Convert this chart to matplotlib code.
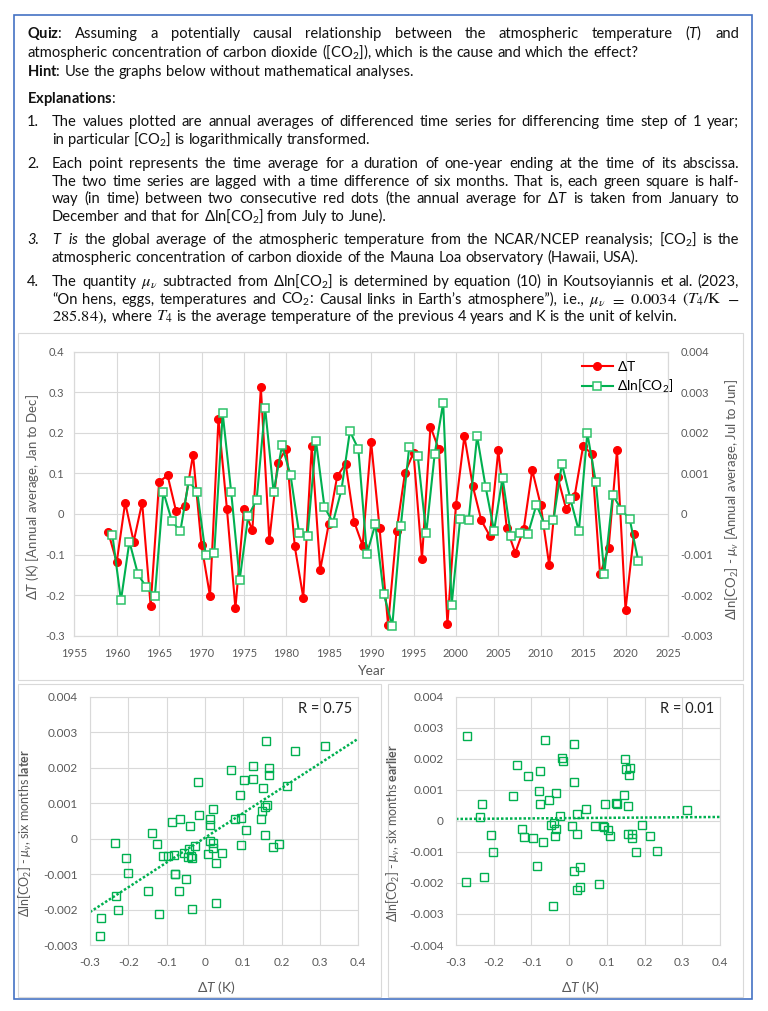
import numpy as np
import matplotlib
matplotlib.use('Agg')
import matplotlib.pyplot as plt
from matplotlib.patches import Rectangle
from matplotlib.lines import Line2D
from matplotlib.ticker import MultipleLocator, FuncFormatter

# Annual values (dT: Jan-Dec years, dln_co2: Jul-Jun, centred at year + 0.5)
years = np.arange(1959, 2022)
dT = [-0.045, -0.119, 0.028, -0.068, 0.028, -0.226, 0.079, 0.095, 0.007, 0.020,
      0.146, -0.077, -0.202, 0.234, 0.012, -0.232, 0.012, -0.040, 0.312, -0.065,
      0.126, 0.161, -0.080, -0.206, 0.167, -0.138, -0.025, 0.093, 0.124, -0.019,
      -0.078, 0.178, -0.035, -0.273, -0.042, 0.102, 0.151, -0.110, 0.215, 0.159,
      -0.272, 0.021, 0.192, 0.068, -0.016, -0.054, 0.157, -0.035, -0.096, -0.037,
      0.108, 0.022, -0.126, 0.091, 0.012, 0.044, 0.167, 0.149, -0.149, -0.085,
      0.157, -0.236, -0.049]
dln_co2 = [-0.00053, -0.00213, -0.00068, -0.00148, -0.00181, -0.00202, 0.00055, -0.00017,
           -0.00043, 0.00082, 0.00054, -0.00101, -0.00097, 0.00248, 0.00054, -0.00162,
           -0.00006, 0.00035, 0.00262, 0.00054, 0.00169, 0.00096, -0.00046, -0.00054,
           0.00180, 0.00017, -0.00021, 0.00059, 0.00204, 0.00160, -0.00099, -0.00025,
           -0.00198, -0.00275, -0.00030, 0.00166, 0.00143, -0.00048, 0.00148, 0.00274,
           -0.00224, -0.00012, -0.00016, 0.00192, 0.00067, -0.00041, 0.00089, -0.00054,
           -0.00048, -0.00049, 0.00023, -0.00027, -0.00016, 0.00124, 0.00037, -0.00042,
           0.00199, 0.00079, -0.00147, 0.00047, 0.00011, -0.00013, -0.00115]
r_labels = ['R = 0.75', 'R = 0.01']

dT = np.array(dT)
dln_co2 = np.array(dln_co2)

W, H = 768, 1011
RED = '#FF0000'
GREEN = '#00B050'
GREEN_EDGE = '#2EC26A'
GRID = '#D9D9D9'
TICK = '#595959'
TEXT = '#111111'
TEXT_SIZE = 10.6

plt.rcParams['font.family'] = ['Lato', 'DejaVu Sans']
plt.rcParams['mathtext.fontset'] = 'custom'
plt.rcParams['mathtext.rm'] = 'Lato'
plt.rcParams['mathtext.it'] = 'Lato:italic'
plt.rcParams['mathtext.bf'] = 'Lato:bold'
plt.rcParams['mathtext.fallback'] = 'stixsans'

fig = plt.figure(figsize=(W / 100, H / 100), dpi=100)
renderer = fig.canvas.get_renderer()


def fx(x):
    return x / W


def fy(y):
    return 1 - y / H


def measure(s, size, **kw):
    t = fig.text(0, 0, s, fontsize=size, **kw)
    w = t.get_window_extent(renderer).width
    t.remove()
    return w


space_w = measure('x x', TEXT_SIZE) - measure('xx', TEXT_SIZE)


def place_words(line, x0, y, x1=None, size=TEXT_SIZE):
    # words are laid out one by one so that justified lines can be spread to x1
    arts = []
    for word in line.split(' '):
        kw = {'fontsize': size}
        if word.startswith('§'):
            # formula parts in a serif math face, a bit larger like Cambria Math
            word = word[1:]
            kw = {'fontsize': size * 1.12, 'math_fontfamily': 'stix'}
        arts.append(fig.text(0, fy(y), word, va='baseline', ha='left', color=TEXT, **kw))
    widths = [a.get_window_extent(renderer).width for a in arts]
    gap = space_w if x1 is None else (x1 - x0 - sum(widths)) / (len(arts) - 1)
    x = x0
    for a, w in zip(arts, widths):
        a.set_x(fx(x))
        x += w + gap


# ---- text block ----
LEFT, INDENT, RIGHT = 27, 52, 739
place_words(r"$\mathbf{Quiz}$: Assuming a potentially causal relationship between the atmospheric temperature ($\mathit{T}$) and", LEFT, 38, RIGHT)
place_words(r"atmospheric concentration of carbon dioxide ([CO$_2$]), which is the cause and which the effect?", LEFT, 57)
place_words(r"$\mathbf{Hint}$: Use the graphs below without mathematical analyses.", LEFT, 76)
place_words(r"$\mathbf{Explanations}$:", LEFT, 103)

items = [
    ('1.', 'normal', [
        (r"The values plotted are annual averages of differenced time series for differencing time step of 1 year;", True),
        (r"in particular [CO$_2$] is logarithmically transformed.", False)], 126),
    ('2.', 'normal', [
        (r"Each point represents the time average for a duration of one-year ending at the time of its abscissa.", True),
        (r"The two time series are lagged with a time difference of six months. That is, each green square is half-", True),
        (r"way (in time) between two consecutive red dots (the annual average for $\Delta\mathit{T}$ is taken from January to", True),
        (r"December and that for $\Delta$ln[CO$_2$] from July to June).", False)], 168),
    ('3.', 'italic', [
        (r"$\mathit{T}$ $\mathit{is}$ the global average of the atmospheric temperature from the NCAR/NCEP reanalysis; [CO$_2$] is the", True),
        (r"atmospheric concentration of carbon dioxide of the Mauna Loa observatory (Hawaii, USA).", False)], 244),
    ('4.', 'normal', [
        (r"The quantity §$\mu_\nu$ subtracted from $\Delta$ln[CO$_2$] is determined by equation (10) in Koutsoyiannis et al. (2023,", True),
        (r"“On hens, eggs, temperatures and CO$_2$: Causal links in Earth’s atmosphere”), i.e., §$\mu_\nu$ §$=$ §$0.0034$ §$(T_4/\mathrm{K}$ §$-$", True),
        (r"§$285.84)$, where §$T_4$ is the average temperature of the previous 4 years and K is the unit of kelvin.", False)], 286),
]
for num, style, lines, y0 in items:
    fig.text(fx(LEFT), fy(y0), num, fontsize=TEXT_SIZE, style=style, va='baseline', color=TEXT)
    for i, (line, just) in enumerate(lines):
        place_words(line, INDENT, y0 + i * 17.6, RIGHT if just else None)

# ---- frames ----
fig.add_artist(Rectangle((fx(14), fy(999)), fx(752) - fx(14), fy(15) - fy(999),
                         transform=fig.transFigure, fill=False, ec='#4472C4', lw=1.2))
for x0, y0, x1, y1 in [(18, 333, 743, 680), (18, 684, 381, 997), (388, 684, 743, 997)]:
    fig.add_artist(Rectangle((fx(x0), fy(y1)), fx(x1) - fx(x0), fy(y0) - fy(y1),
                             transform=fig.transFigure, fill=False, ec=GRID, lw=0.8))


def style_axes(ax):
    ax.grid(True, color=GRID, lw=0.8)
    ax.set_axisbelow(True)
    for s in ax.spines.values():
        s.set_color(GRID)
        s.set_linewidth(0.8)
    ax.tick_params(length=0, colors=TICK, labelsize=8.5)


fmt = FuncFormatter(lambda v, p: '%g' % round(v, 6))

# ---- time series ----
ax = fig.add_axes([fx(74.3), fy(635.7), fx(667.9) - fx(74.3), fy(351.7) - fy(635.7)])
style_axes(ax)
ax.tick_params(labelsize=8, pad=7)
ax.tick_params(axis='x', pad=9)
ax.plot(years, dT, color=RED, lw=1.5, marker='o', ms=5.5, mec=RED, mfc=RED)
ax.set_xlim(1955, 2025)
ax.set_ylim(-0.3, 0.4)
ax.xaxis.set_major_locator(MultipleLocator(5))
ax.yaxis.set_major_locator(MultipleLocator(0.1))
ax.yaxis.set_major_formatter(fmt)

ax2 = ax.twinx()
ax2.plot(years + 0.5, dln_co2, color=GREEN, lw=1.5, marker='s', ms=5.5, mec=GREEN_EDGE,
         mfc='white', mew=1.1)
ax2.set_ylim(-0.003, 0.004)
ax2.yaxis.set_major_locator(MultipleLocator(0.001))
ax2.yaxis.set_major_formatter(fmt)
for s in ax2.spines.values():
    s.set_color(GRID)
    s.set_linewidth(0.8)
ax2.tick_params(length=0, colors=TICK, labelsize=8, pad=9)

handles = [Line2D([], [], color=RED, lw=1.5, marker='o', ms=5.5, mfc=RED, mec=RED),
           Line2D([], [], color=GREEN, lw=1.5, marker='s', ms=5.5, mfc='white', mec=GREEN_EDGE, mew=1.1)]
ax2.legend(handles, [r'$\Delta$T', r'$\Delta$ln[CO$_2$]'], loc='upper left',
           bbox_to_anchor=(fx(575), fy(352)), bbox_transform=fig.transFigure, frameon=False,
           handlelength=2.2, handletextpad=0.3, labelspacing=0.35, borderpad=0, fontsize=10)

fig.text(fx(371), fy(671), 'Year', fontsize=10, color=TICK, ha='center', va='center')
fig.text(fx(33), fy(497), r'$\Delta\mathit{T}$ (K) [Annual average, Jan to Dec]', fontsize=9.5,
         color=TICK, rotation=90, ha='center', va='center')
fig.text(fx(732), fy(500), r'$\Delta$ln[CO$_2$] - $\mu_\nu$ [Annual average, Jul to Jun]', fontsize=9.5,
         color=TICK, rotation=90, ha='center', va='center')

# ---- scatter plots: dT against dln[CO2] half a year later / earlier ----
pairs = [(dT, dln_co2), (dT[1:], dln_co2[:-1])]
boxes = [(90, 358.3, -0.003), (456, 720, -0.004)]
ylabels = [r'$\Delta$ln[CO$_2$] - $\mu_\nu$, six months $\mathbf{later}$',
           r'$\Delta$ln[CO$_2$] - $\mu_\nu$, six months $\mathbf{earlier}$']
label_x = [25, 393]
xlab_x = [216, 580]

for (x, y), (l, r, ymin), ylab, lx, xx, rl in zip(pairs, boxes, ylabels, label_x, xlab_x, r_labels):
    sa = fig.add_axes([fx(l), fy(945), fx(r) - fx(l), fy(696.7) - fy(945)])
    style_axes(sa)
    sa.tick_params(pad=9)
    sa.plot(x, y, ls='none', marker='s', ms=6, mfc='none', mec=GREEN, mew=1.0)
    k, b = np.polyfit(x, y, 1)
    xs = np.array([-0.3, 0.4])
    sa.plot(xs, k * xs + b, color=GREEN, lw=1.8, ls=(0, (1, 0.8)))
    sa.set_xlim(-0.3, 0.4)
    sa.set_ylim(ymin, 0.004)
    sa.xaxis.set_major_locator(MultipleLocator(0.1))
    sa.yaxis.set_major_locator(MultipleLocator(0.001))
    sa.xaxis.set_major_formatter(fmt)
    sa.yaxis.set_major_formatter(fmt)
    fig.text(fx(r - 6), fy(709), rl, fontsize=10.5, color='#222222', ha='right', va='center')
    fig.text(fx(lx), fy(833), ylab, fontsize=9, color=TICK, rotation=90, ha='center', va='center')
    fig.text(fx(xx), fy(988), r'$\Delta\mathit{T}$ (K)', fontsize=10, color=TICK, ha='center', va='center')

fig.savefig('out.png', dpi=100, facecolor='white')
